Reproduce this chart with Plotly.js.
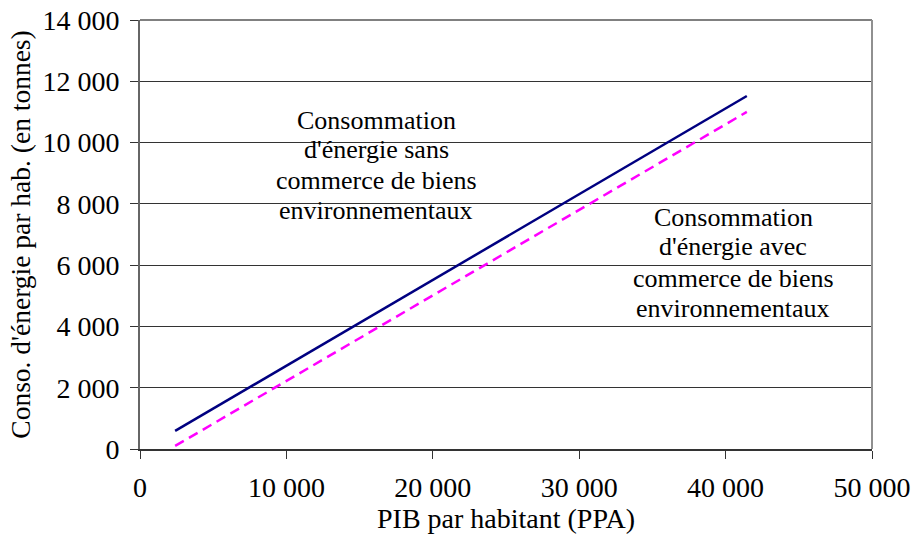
<!DOCTYPE html>
<html>
<head>
<meta charset="utf-8">
<script src="https://cdn.plot.ly/plotly-3.0.1.min.js"></script>
<style>
html,body{margin:0;padding:0;background:#fff;}
#chart{width:913px;height:541px;}
</style>
</head>
<body>
<div id="chart"></div>
<script>
// Data
var pibX = [2400, 41450];
var sansCommerce = [590, 11520];
var avecCommerce = [100, 11000];

var xTickVals = [0, 10000, 20000, 30000, 40000, 50000];
var xTickText = ['0', '10 000', '20 000', '30 000', '40 000', '50 000'];
var yTickVals = [0, 2000, 4000, 6000, 8000, 10000, 12000, 14000];
var yTickText = ['0', '2 000', '4 000', '6 000', '8 000', '10 000', '12 000', '14 000'];

var labelSans = ['Consommation', "d'énergie sans", 'commerce de biens', 'environnementaux'];
var labelAvec = ['Consommation', "d'énergie avec", 'commerce de biens', 'environnementaux'];

var FONT = 'Liberation Serif, Times New Roman, serif';

var traces = [
  {x: pibX, y: sansCommerce, type: 'scatter', mode: 'lines', name: 'Sans commerce',
   line: {color: '#000080', width: 2.5}},
  {x: pibX, y: avecCommerce, type: 'scatter', mode: 'lines', name: 'Avec commerce',
   line: {color: '#FF00FF', width: 2.5, dash: '10px,6px'}}
];

// label placement (pixel rows converted to paper fractions)
var plotTop = 20, plotH = 429, plotL = 140, plotW = 732;
function py(pix){ return (plotTop + plotH - pix) / plotH; }
function px(pix){ return (pix - plotL) / plotW; }
var sansRows = [120, 150, 180, 210];
var avecRows = [217, 247, 278, 308];

var annotations = [];
labelSans.forEach(function(t, i){
  annotations.push({text: t, xref: 'paper', yref: 'paper', x: px(376), y: py(sansRows[i]),
    xanchor: 'center', yanchor: 'middle', showarrow: false,
    font: {family: FONT, size: 26, color: '#000'}});
});
labelAvec.forEach(function(t, i){
  annotations.push({text: t, xref: 'paper', yref: 'paper', x: px(733), y: py(avecRows[i]),
    xanchor: 'center', yanchor: 'middle', showarrow: false,
    font: {family: FONT, size: 26, color: '#000'}});
});

var layout = {
  width: 913, height: 541,
  margin: {l: 140, r: 41, t: 20, b: 92, pad: 0},
  paper_bgcolor: '#fff', plot_bgcolor: '#fff',
  showlegend: false,
  font: {family: FONT, size: 27, color: '#000'},
  xaxis: {
    range: [0, 50000], tickvals: xTickVals, ticktext: xTickText,
    showgrid: false, zeroline: false,
    showline: true, linecolor: '#333', linewidth: 1.5,
    ticks: 'outside', ticklen: 8, tickcolor: '#333', tickwidth: 1,
    ticklabelstandoff: 5,
    tickfont: {family: FONT, size: 28, color: '#000'},
    title: {text: 'PIB par habitant (PPA)', font: {family: FONT, size: 28, color: '#000'}, standoff: 6},
    fixedrange: true
  },
  yaxis: {
    range: [0, 14000], tickvals: yTickVals, ticktext: yTickText,
    showgrid: true, gridcolor: '#333', gridwidth: 1,
    zeroline: false,
    showline: true, linecolor: '#666', linewidth: 2,
    ticks: 'outside', ticklen: 8, tickcolor: '#333', tickwidth: 1,
    ticklabelstandoff: 5,
    tickfont: {family: FONT, size: 28, color: '#000'},
    title: {text: "Conso. d'énergie par hab. (en tonnes)", font: {family: FONT, size: 27.5, color: '#000'}, standoff: 4},
    fixedrange: true
  },
  shapes: [
    {type: 'line', xref: 'paper', yref: 'paper', x0: 0, x1: 1, y0: 1, y1: 1, line: {color: '#808080', width: 2}},
    {type: 'line', xref: 'paper', yref: 'paper', x0: 1, x1: 1, y0: 0, y1: 1, line: {color: '#909090', width: 2}}
  ],
  annotations: annotations
};

Plotly.newPlot('chart', traces, layout, {displayModeBar: false, staticPlot: true});
</script>
</body>
</html>
